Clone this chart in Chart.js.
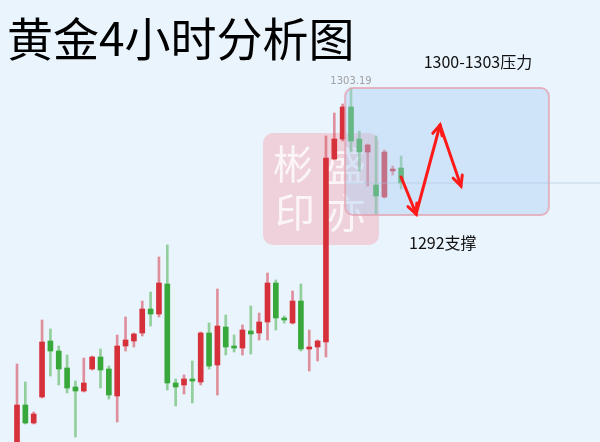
<!DOCTYPE html>
<html>
<head>
<meta charset="utf-8">
<script src="https://cdn.jsdelivr.net/npm/chart.js@4/dist/chart.umd.min.js"></script>
<style>
  html, body { margin: 0; padding: 0; background: #eaf4fd; }
  #wrap { width: 600px; height: 442px; position: relative; }
</style>
</head>
<body>
<div id="wrap"><canvas id="kline" width="600" height="442"></canvas></div>
<script>
// 🔹 CANDLES (4h, oldest first)
const opens  = [1266.79,1271.49,1269.69,1272.29,1277.89,1276.89,1275.19,1273.29,1272.89,1275.09,1276.29,1275.09,1272.39,1277.39,1277.89,1278.69,1281.09,1280.59,1283.59,1273.69,1273.49,1274.09,1273.79,1278.69,1275.49,1279.29,1277.39,1277.19,1278.89,1278.69,1279.79,1283.69,1280.19,1279.69,1281.89,1277.09,1277.29,1277.79,1296.09,1298.09,1301.29,1298.09,1296.79,1293.49,1292.29,1294.89,1295.19];
const highs  = [1275.59,1273.79,1270.79,1279.99,1279.09,1277.39,1276.49,1273.89,1276.19,1276.39,1277.09,1275.39,1278.49,1280.29,1278.69,1281.89,1282.79,1286.29,1287.49,1274.09,1274.49,1275.89,1278.79,1279.69,1283.09,1280.49,1278.49,1279.49,1281.39,1280.69,1284.69,1283.99,1280.39,1282.89,1283.59,1278.99,1277.99,1298.39,1300.69,1301.59,1303.19,1298.89,1297.59,1298.39,1296.99,1295.39,1296.39];
const lows   = [1266.39,1269.59,1269.59,1272.19,1274.39,1273.49,1272.69,1268.29,1272.79,1274.99,1273.19,1272.09,1269.79,1276.89,1277.29,1278.39,1279.39,1280.29,1272.99,1271.39,1272.59,1271.69,1273.49,1275.09,1272.49,1276.49,1276.79,1276.49,1276.59,1277.99,1277.99,1278.99,1279.69,1279.59,1276.89,1274.89,1275.89,1276.29,1295.99,1297.89,1296.79,1294.89,1293.39,1290.59,1292.19,1294.49,1293.09];
const closes = [1271.49,1269.69,1270.59,1277.79,1276.89,1275.09,1273.19,1272.89,1273.69,1276.29,1274.99,1272.49,1277.39,1277.99,1278.59,1281.09,1280.59,1283.69,1273.69,1273.29,1274.09,1273.89,1278.69,1275.39,1279.39,1277.29,1277.19,1278.99,1278.59,1279.79,1283.69,1280.19,1279.99,1281.89,1277.09,1277.29,1277.89,1296.19,1298.09,1301.29,1297.89,1296.79,1297.49,1292.39,1296.79,1294.99,1293.69];

// 🔹 ANNOTATIONS (candle index / price)
const titleText = "黄金4小时分析图";
const zoneFrom = 39.3, zoneTo = 63.7;
const zoneTop = 1303.19, zoneBottom = 1290.49;
const zoneLabel = "1300-1303压力";
const zoneLabelPos = [55.2, 1305.8];
const supportLabel = "1292支撑";
const supportLabelPos = [51.0, 1287.7];
const arrowX = [46.0, 47.8, 50.66, 53.17];
const arrowY = [1294.29, 1290.59, 1299.49, 1293.39];

// 🔥 COLORS (red = up, green = down)
const UP = "#d6303a", DOWN = "#38a83a";
const UP_WICK = "rgba(214,60,75,0.55)", DOWN_WICK = "rgba(60,170,60,0.5)";

const isUp = opens.map((o, i) => closes[i] >= o);

// 🔥 DECOR PLUGIN (stamp, zone, arrows, text)
const decor = {
    id: "decor",
    beforeDatasetsDraw(chart) {
        const c = chart.ctx;
        c.save();
        // stamp watermark
        c.fillStyle = "rgba(245,140,150,0.34)";
        c.beginPath();
        c.roundRect(263, 133, 116, 112, 10);
        c.fill();
        c.fillStyle = "rgba(252,248,250,0.9)";
        c.font = "40px 'Noto Sans CJK SC'";
        c.textAlign = "center";
        c.textBaseline = "middle";
        c.fillText("彬", 293, 164);
        c.fillText("印", 295, 212);
        c.fillText("盛", 346, 166);
        c.fillText("亦", 346, 213);
        c.restore();
    },
    afterDatasetsDraw(chart) {
        const c = chart.ctx;
        const xs = chart.scales.x, ys = chart.scales.y;
        c.save();

        // zone box
        const bx = xs.getPixelForValue(zoneFrom), bx2 = xs.getPixelForValue(zoneTo);
        const by = ys.getPixelForValue(zoneTop), by2 = ys.getPixelForValue(zoneBottom);
        c.fillStyle = "rgba(170,205,240,0.42)";
        c.strokeStyle = "rgba(228,160,175,0.75)";
        c.lineWidth = 2;
        c.beginPath();
        c.roundRect(bx, by, bx2 - bx, by2 - by, 8);
        c.fill();
        c.stroke();

        // last price line
        const ly = ys.getPixelForValue(closes[closes.length - 1]);
        c.strokeStyle = "rgba(170,195,220,0.6)";
        c.lineWidth = 1;
        c.beginPath();
        c.moveTo(bx, ly);
        c.lineTo(600, ly);
        c.stroke();

        // arrows
        c.strokeStyle = "#ff1a1a";
        c.lineWidth = 3;
        c.lineCap = "round";
        for (let i = 0; i < arrowX.length - 1; i++) {
            const x1 = xs.getPixelForValue(arrowX[i]), y1 = ys.getPixelForValue(arrowY[i]);
            const x2 = xs.getPixelForValue(arrowX[i + 1]), y2 = ys.getPixelForValue(arrowY[i + 1]);
            const a = Math.atan2(y2 - y1, x2 - x1);
            c.beginPath();
            c.moveTo(x1, y1);
            c.lineTo(x2, y2);
            c.stroke();
            c.beginPath();
            c.moveTo(x2 - 11 * Math.cos(a - 0.45), y2 - 11 * Math.sin(a - 0.45));
            c.lineTo(x2, y2);
            c.lineTo(x2 - 11 * Math.cos(a + 0.45), y2 - 11 * Math.sin(a + 0.45));
            c.stroke();
        }

        // high label
        let hi = 0;
        highs.forEach((h, i) => { if (h > highs[hi]) hi = i; });
        c.fillStyle = "#a0a0a0";
        c.font = "10px 'DejaVu Sans'";
        c.textAlign = "center";
        c.textBaseline = "bottom";
        c.fillText(highs[hi].toFixed(2), xs.getPixelForValue(hi), ys.getPixelForValue(highs[hi]) - 2);

        // labels
        c.fillStyle = "#111";
        c.font = "16px 'Noto Sans CJK SC'";
        c.textBaseline = "middle";
        c.fillText(zoneLabel, xs.getPixelForValue(zoneLabelPos[0]), ys.getPixelForValue(zoneLabelPos[1]));
        c.fillText(supportLabel, xs.getPixelForValue(supportLabelPos[0]), ys.getPixelForValue(supportLabelPos[1]));

        // title
        c.font = "46px 'Noto Sans CJK SC'";
        c.textAlign = "left";
        c.fillStyle = "#000";
        c.fillText(titleText, 7, 39);
        c.restore();
    }
};

// 🔁 RUN
new Chart(document.getElementById("kline"), {
    type: "bar",
    data: {
        datasets: [
            {
                label: "body",
                data: opens.map((o, i) => ({ x: i, y: [Math.min(o, closes[i]), Math.max(o, closes[i])] })),
                backgroundColor: isUp.map(u => u ? UP : DOWN),
                barThickness: 5,
                minBarLength: 2,
                grouped: false,
                order: 0
            },
            {
                label: "wick",
                data: highs.map((h, i) => ({ x: i, y: [lows[i], h] })),
                backgroundColor: isUp.map(u => u ? UP_WICK : DOWN_WICK),
                barThickness: 2,
                grouped: false,
                order: 1
            }
        ]
    },
    options: {
        responsive: false,
        animation: false,
        devicePixelRatio: 1,
        layout: { padding: 0 },
        plugins: { legend: { display: false }, tooltip: { enabled: false } },
        scales: {
            x: { type: "linear", offset: false, min: -2.036, max: 69.82, display: false },
            y: { min: 1267.79, max: 1311.99, display: false }
        }
    },
    plugins: [decor]
});
</script>
</body>
</html>
